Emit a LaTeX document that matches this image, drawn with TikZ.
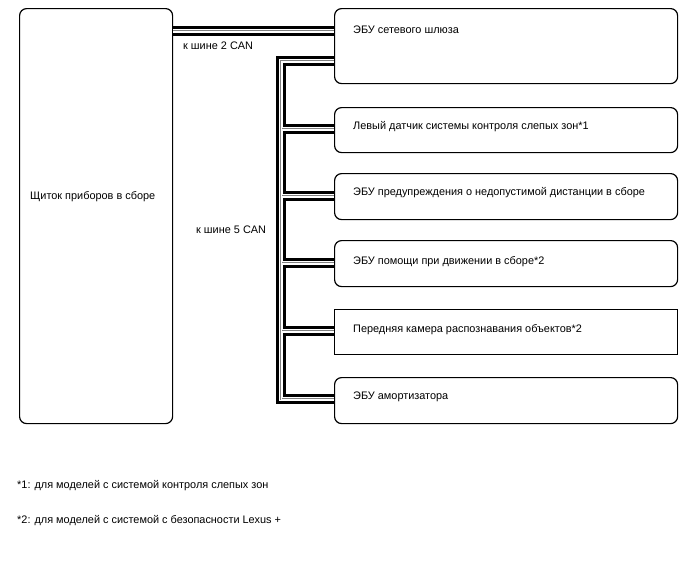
\documentclass[tikz,border=0pt]{standalone}
\usepackage{fontspec}
\setmainfont{Liberation Sans}
\begin{document}
\begin{tikzpicture}[x=1pt,y=-1pt,
  box/.style={draw, line width=1.2pt, rounded corners=7pt, anchor=north west, inner sep=0pt},
  sqbox/.style={draw, line width=1.2pt, anchor=north west, inner sep=0pt},
  txt/.style={anchor=west, inner sep=0pt, font=\fontsize{10.9}{13}\selectfont}]
\useasboundingbox (0,0) rectangle (688,560);

% boxes
\node[box, minimum width=153pt, minimum height=415pt] (cl) at (19,8) {};
\node[box, minimum width=343pt, minimum height=75pt] (gw) at (334,8) {};
\node[box, minimum width=343pt, minimum height=45pt] (bsm) at (334,107) {};
\node[box, minimum width=343pt, minimum height=46pt] (pcs) at (334,173) {};
\node[box, minimum width=343pt, minimum height=46pt] (ipa) at (334,240) {};
\node[sqbox, minimum width=343pt, minimum height=45pt] (cam) at (334,309) {};
\node[box, minimum width=343pt, minimum height=46pt] (amo) at (334,377) {};

% texts
\node[txt] (tcl) at (30,197) {Щиток приборов в сборе};
\node[txt] (tgw) at (353,30) {ЭБУ сетевого шлюза};
\node[txt] (tbsm) at (353,127) {Левый датчик системы контроля слепых зон*1};
\node[txt] (tpcs) at (353,193) {ЭБУ предупреждения о недопустимой дистанции в сборе};
\node[txt] (tipa) at (353,262) {ЭБУ помощи при движении в сборе*2};
\node[txt] (tcam) at (353,330) {Передняя камера распознавания объектов*2};
\node[txt] (tamo) at (353,397) {ЭБУ амортизатора};
\node[txt] (can2) at (183,46) {к шине 2 CAN};
\node[txt] (can5) at (196,230) {к шине 5 CAN};
\node[txt] (fn1) at (17,486) {*1: для моделей с системой контроля слепых зон};
\node[txt] (fn2) at (17,521) {*2: для моделей с системой с безопасности Lexus +};

% bus junctions
\coordinate (j0) at (281,61);
\coordinate (j1) at (281,129);
\coordinate (j2) at (281,196);
\coordinate (j3) at (281,263);
\coordinate (j4) at (281,331);
\coordinate (j5) at (281,399);
\coordinate (c2) at (0,31);

% twisted-pair buses drawn in layers
\foreach \w/\c in {9.4/black,4.8/white,2.6/gray,0.8/white}{
  \draw[line width=\w pt, \c] (cl.east |- c2) -- (gw.west |- c2);
  \draw[line width=\w pt, \c, line join=miter] (gw.west |- j0) -- (j0) -- (j5) -- (amo.west |- j5);
  \draw[line width=\w pt, \c] (j1) -- (bsm.west |- j1);
  \draw[line width=\w pt, \c] (j2) -- (pcs.west |- j2);
  \draw[line width=\w pt, \c] (j3) -- (ipa.west |- j3);
  \draw[line width=\w pt, \c] (j4) -- (cam.west |- j4);
}
\end{tikzpicture}
\end{document}
